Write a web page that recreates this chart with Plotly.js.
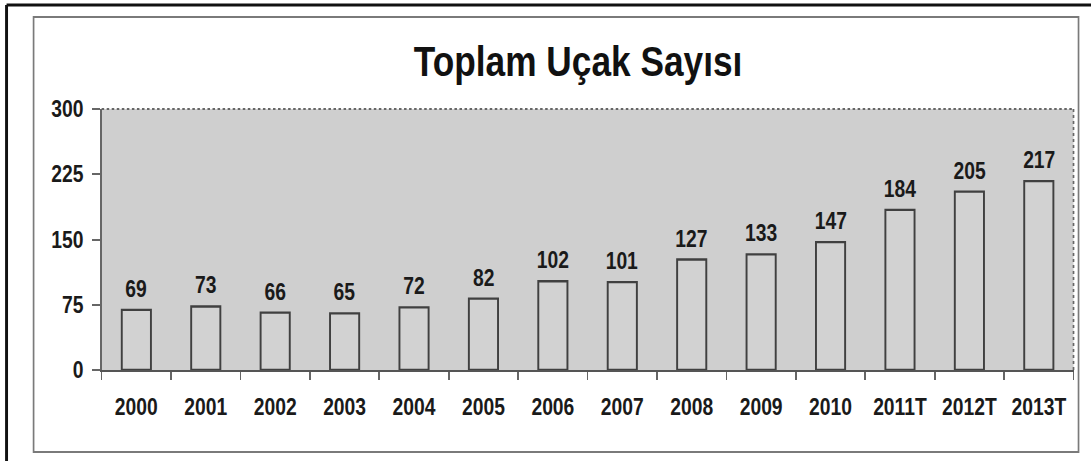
<!DOCTYPE html>
<html>
<head>
<meta charset="utf-8">
<script src="https://cdn.plot.ly/plotly-3.0.1.min.js"></script>
<style>
  html, body { margin: 0; padding: 0; overflow: hidden; background: #fff; }
  #wrap { width: 1091px; height: 461px; overflow: hidden; }
  /* the reference is horizontally squeezed, so draw wider and squeeze */
  #chart { transform-origin: 0 0; }
</style>
</head>
<body>
<div id="wrap"><div id="chart"></div></div>
<script>
// veriler
var years = ['2000', '2001', '2002', '2003', '2004', '2005', '2006', '2007',
             '2008', '2009', '2010', '2011T', '2012T', '2013T'];
var planes = [69, 73, 66, 65, 72, 82, 102, 101, 127, 133, 147, 184, 205, 217];
var yTicks = [0, 75, 150, 225, 300];

var K = 0.84;                 // horizontal squeeze
var W = 1091, H = 461;
var Wi = Math.round(W / K);
// plot area in screen pixels
var L = 102, R = 1073, T = 109, B = 370;
var FONT = '"Liberation Sans", Arial, sans-serif';

var el = document.getElementById('chart');
el.style.width = Wi + 'px';
el.style.height = H + 'px';
el.style.transform = 'scaleX(' + K + ')';

// screen pixel -> paper coords
function px(x) { return (x - L) / (R - L); }
function py(y) { return (B - y) / (B - T); }

var shapes = [
    // outer black frame (top + left)
    {type: 'line', xref: 'paper', yref: 'paper', x0: px(7), x1: px(W + 5), y0: py(5), y1: py(5),
     line: {color: '#111', width: 3}},
    {type: 'line', xref: 'paper', yref: 'paper', x0: px(7), x1: px(7), y0: py(5), y1: py(H + 5),
     line: {color: '#111', width: 3.5}},
    // inner gray frame
    {type: 'rect', xref: 'paper', yref: 'paper', x0: px(34), x1: px(1078), y0: py(17), y1: py(452),
     line: {color: '#7a7a7a', width: 2}},
    // dotted top / right border of plot area
    {type: 'line', xref: 'paper', yref: 'paper', x0: 0, x1: 1, y0: 1, y1: 1,
     line: {color: '#666', width: 2, dash: 'dot'}},
    {type: 'line', xref: 'paper', yref: 'paper', x0: 1, x1: 1, y0: 0, y1: 1,
     line: {color: '#666', width: 2, dash: 'dot'}}
];

// value labels above bars (x as category index)
var labels = planes.map(function (v, i) {
    return {
        x: i, y: v, xref: 'x', yref: 'y',
        text: String(v), showarrow: false,
        yanchor: 'bottom', yshift: 6,
        font: {family: FONT, size: 23, color: '#1a1a1a', weight: 'bold'}
    };
});

var data = [{
    type: 'bar',
    x: years,
    y: planes,
    marker: {color: '#d2d2d2', line: {color: '#404040', width: 2.3}},
    hoverinfo: 'x+y'
}];

var layout = {
    width: Wi,
    height: H,
    margin: {l: L / K, r: (W - R) / K, t: T, b: H - B, pad: 0},
    paper_bgcolor: '#fff',
    plot_bgcolor: '#cfcfcf',
    showlegend: false,
    bargap: 0.58,
    font: {family: FONT, color: '#1a1a1a'},
    title: {
        text: 'Toplam Uçak Sayısı',
        font: {family: FONT, size: 42, color: '#111', weight: 'bold'},
        xref: 'container', x: 578 / W, xanchor: 'center',
        yref: 'container', y: 1 - 61 / H, yanchor: 'middle'
    },
    xaxis: {
        type: 'category',
        range: [-0.5, years.length - 0.5],
        tickson: 'boundaries',
        tickangle: 0,
        ticks: 'outside', ticklen: 8, tickwidth: 2, tickcolor: '#666',
        showline: true, linecolor: '#555', linewidth: 2,
        showgrid: false,
        tickfont: {family: FONT, size: 23, color: '#1a1a1a', weight: 'bold'},
        ticklabelstandoff: 15
    },
    yaxis: {
        range: [0, 300],
        tickvals: yTicks,
        ticktext: yTicks.map(String),
        ticks: 'outside', ticklen: 9.5, tickwidth: 2, tickcolor: '#666',
        showline: true, linecolor: '#666', linewidth: 2.4,
        showgrid: false, zeroline: false,
        tickfont: {family: FONT, size: 23, color: '#1a1a1a', weight: 'bold'},
        ticklabelstandoff: 5
    },
    shapes: shapes,
    annotations: labels
};

Plotly.newPlot(el, data, layout, {displayModeBar: false, staticPlot: true});
</script>
</body>
</html>
